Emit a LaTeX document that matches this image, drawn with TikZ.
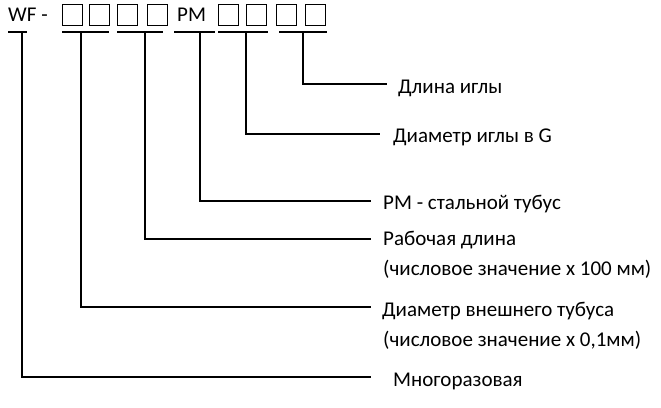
\documentclass[tikz,border=0pt]{standalone}
\usepackage{fontspec}
\setmainfont{Carlito}
\begin{document}
\begin{tikzpicture}[x=1pt,y=-1pt,
  lead/.style={line width=2pt},
  slot/.style={draw,line width=1pt,minimum width=20pt,minimum height=21pt,inner sep=0pt,anchor=north west},
  lbl/.style={anchor=base west,inner sep=0pt,font=\fontsize{21}{24}\selectfont}]
\useasboundingbox (0,0) rectangle (661,407);
% header text
\node[lbl] (wf) at (8,21) {WF -};
\node[lbl] (pm) at (177,21) {PM};
% slots
\node[slot] (b1) at (62,4) {};
\node[slot] (b2) at (89,4) {};
\node[slot] (b3) at (117,4) {};
\node[slot] (b4) at (147,4) {};
\node[slot] (b5) at (218,4) {};
\node[slot] (b6) at (246,4) {};
\node[slot] (b7) at (276,4) {};
\node[slot] (b8) at (305,4) {};
% underlines
\coordinate (u1a) at (8,32);  \coordinate (u1b) at (27,32);
\coordinate (u2a) at (62,32); \coordinate (u2b) at (109,32);
\coordinate (u3a) at (117,32);\coordinate (u3b) at (163,32);
\coordinate (u4a) at (174,32);\coordinate (u4b) at (215,32);
\coordinate (u5a) at (218,32);\coordinate (u5b) at (268,32);
\coordinate (u6a) at (279,32);\coordinate (u6b) at (327,32);
\foreach \i in {1,...,6} {\draw[lead] (u\i a) -- (u\i b);}
% labels
\node[lbl] (t1) at (398,93) {Длина иглы};
\node[lbl] (t2) at (393,142) {Диаметр иглы в G};
\node[lbl] (t3) at (383,209) {PM - стальной тубус};
\node[lbl] (t4) at (383,245) {Рабочая длина};
\node[lbl] (t4b) at (383,275) {(числовое значение х 100 мм)};
\node[lbl] (t5) at (382,316) {Диаметр внешнего тубуса};
\node[lbl] (t5b) at (383,346) {(числовое значение х 0,1мм)};
\node[lbl] (t6) at (393,386) {Многоразовая};
% leader corners
\coordinate (c1) at (303,32); \coordinate (e1) at (387,84);
\coordinate (c2) at (246,32); \coordinate (e2) at (380,134);
\coordinate (c3) at (200,32); \coordinate (e3) at (371,201);
\coordinate (c4) at (145,32); \coordinate (e4) at (371,239);
\coordinate (c5) at (81,32);  \coordinate (e5) at (371,307);
\coordinate (c6) at (22,32);  \coordinate (e6) at (371,377);
\foreach \i in {1,...,6} {\draw[lead] (c\i) |- (e\i);}
\end{tikzpicture}
\end{document}
